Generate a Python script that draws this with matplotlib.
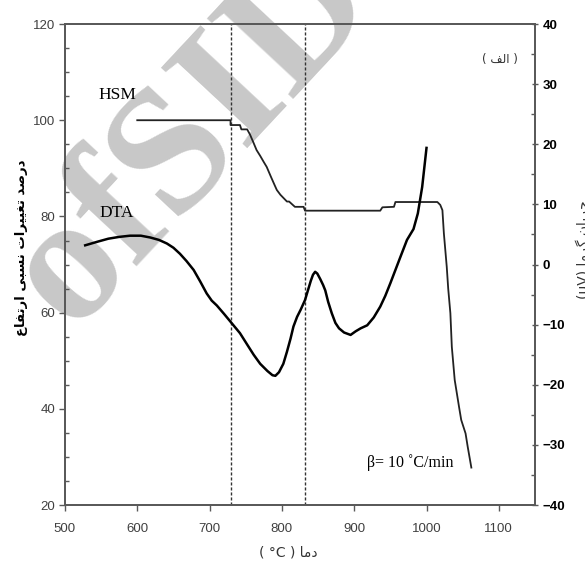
import matplotlib.pyplot as plt
from matplotlib.ticker import MultipleLocator

# HSM: relative height change (%) vs temperature (left axis)
hsm_t = [600, 729, 729, 742, 744, 752, 756, 760, 765, 770, 775, 779, 785, 790, 793,
         798, 807, 810, 818, 830, 832, 936, 939, 955, 957, 1015, 1019, 1022, 1024,
         1028, 1030, 1033, 1035, 1039, 1045, 1048, 1054, 1057, 1062]
hsm_v = [100, 100, 99.0, 99.0, 98.1, 98.1, 97.0, 95.6, 93.8, 92.6, 91.3, 90.3, 88.2,
         86.5, 85.5, 84.5, 83.1, 83.1, 82.0, 82.0, 81.2, 81.2, 81.9, 82.0, 83.0, 83.0,
         82.4, 81.3, 76.5, 69.5, 65.0, 59.9, 52.9, 46.0, 40.4, 37.7, 34.9, 32.1, 27.8]

# DTA signal (uV) vs temperature (right axis)
dta_t = [528, 545, 560, 575, 590, 605, 618, 630, 641, 650, 659, 668, 678, 687, 696,
         703, 710, 720, 731, 742, 752, 761, 770, 780, 787, 791, 796, 802, 807, 812,
         816, 821, 826, 832, 836, 840, 843, 846, 849, 853, 857, 860, 864, 869, 874,
         879, 886, 895, 902, 909, 918, 927, 936, 943, 950, 957, 964, 973, 982, 988,
         994, 1000]
dta_v = [3.2, 3.8, 4.3, 4.6, 4.8, 4.8, 4.5, 4.1, 3.5, 2.8, 1.8, 0.6, -0.9, -2.8, -4.8,
         -6.0, -6.8, -8.2, -9.8, -11.4, -13.3, -15.0, -16.5, -17.7, -18.4, -18.5, -17.9,
         -16.5, -14.5, -12.3, -10.3, -8.7, -7.5, -5.9, -4.3, -2.7, -1.7, -1.2, -1.5,
         -2.4, -3.4, -4.3, -6.2, -8.1, -9.7, -10.6, -11.3, -11.7, -11.1, -10.6, -10.1,
         -8.8, -7.0, -5.2, -3.1, -0.9, 1.3, 4.1, 5.9, 8.5, 12.9, 19.4]

marks = [730, 832]

x_ticks = [500, 600, 700, 800, 900, 1000, 1100]
left_ticks = [20, 40, 60, 80, 100, 120]
right_ticks = [-40, -30, -20, -10, 0, 10, 20, 30, 40]

# minimal Persian shaping: isolated, final, initial, medial
FORMS = {
    'ا': (0xFE8D, 0xFE8E, None, None),
    'ب': (0xFE8F, 0xFE90, 0xFE91, 0xFE92),
    'ت': (0xFE95, 0xFE96, 0xFE97, 0xFE98),
    'ج': (0xFE9D, 0xFE9E, 0xFE9F, 0xFEA0),
    'د': (0xFEA9, 0xFEAA, None, None),
    'ر': (0xFEAD, 0xFEAE, None, None),
    'س': (0xFEB1, 0xFEB2, 0xFEB3, 0xFEB4),
    'ص': (0xFEB9, 0xFEBA, 0xFEBB, 0xFEBC),
    'ع': (0xFEC9, 0xFECA, 0xFECB, 0xFECC),
    'غ': (0xFECD, 0xFECE, 0xFECF, 0xFED0),
    'ف': (0xFED1, 0xFED2, 0xFED3, 0xFED4),
    'ل': (0xFEDD, 0xFEDE, 0xFEDF, 0xFEE0),
    'م': (0xFEE1, 0xFEE2, 0xFEE3, 0xFEE4),
    'ن': (0xFEE5, 0xFEE6, 0xFEE7, 0xFEE8),
    'ی': (0xFBFC, 0xFBFD, 0xFBFE, 0xFBFF),
    'گ': (0xFB92, 0xFB93, 0xFB94, 0xFB95),
}


def fa(s):
    out = []
    for i, c in enumerate(s):
        if c not in FORMS:
            out.append(c)
            continue
        prev = s[i - 1] if i > 0 else None
        nxt = s[i + 1] if i + 1 < len(s) else None
        jp = prev in FORMS and FORMS[prev][2] is not None
        jn = nxt in FORMS and FORMS[c][2] is not None
        iso, fin, ini, med = FORMS[c]
        if jp and jn:
            code = med
        elif jp:
            code = fin
        elif jn:
            code = ini
        else:
            code = iso
        out.append(chr(code))
    return ''.join(reversed(out))


fig = plt.figure(figsize=(5.85, 5.65), dpi=100)
ax = fig.add_axes([0.111, 0.106, 0.8035, 0.8515])
ax2 = ax.twinx()

# watermark
fig.text(0.33, 0.76, 'ofSID', fontsize=130, family='Liberation Serif', fontweight='bold',
         color='#c8c8c8', rotation=47, ha='center', va='center', zorder=0)
ax.set_zorder(2)
ax2.set_zorder(3)
ax.patch.set_alpha(0)

ax.set_xlim(500, 1150)
ax.set_ylim(20, 120)
ax2.set_ylim(-40, 40)

for m in marks:
    ax.axvline(m, color='#333333', lw=1.0, ls=(0, (2.2, 1.4)))

ax.plot(hsm_t, hsm_v, color='#222222', lw=1.3)
ax2.plot(dta_t, dta_v, color='black', lw=1.8)

spine_c = '#595959'
for a in (ax, ax2):
    for s in a.spines.values():
        s.set_color(spine_c)
        s.set_linewidth(1.3)

ax.set_xticks(x_ticks)
ax.set_yticks(left_ticks)
ax.yaxis.set_minor_locator(MultipleLocator(5))
ax.tick_params(axis='x', direction='out', length=4, width=1, color=spine_c, pad=9,
               labelsize=9.5, labelcolor='#404040')
ax.tick_params(axis='y', which='major', direction='out', length=4, width=1, color=spine_c,
               pad=3, labelsize=9.5, labelcolor='#404040')
ax.tick_params(axis='y', which='minor', direction='in', length=3, width=1, color=spine_c)
for lab in ax.get_xticklabels() + ax.get_yticklabels():
    lab.set_family('Liberation Sans')

ax2.set_yticks(right_ticks)
ax2.yaxis.set_minor_locator(MultipleLocator(5))
ax2.tick_params(axis='y', which='major', direction='inout', length=5, width=1, color=spine_c,
                pad=3, labelsize=9.5)
ax2.tick_params(axis='y', which='minor', direction='in', length=3, width=1, color=spine_c)
for lab in ax2.get_yticklabels():
    lab.set_family('Liberation Sans')
    lab.set_fontweight('bold')

ax.text(572, 105.2, 'HSM', fontsize=12.5, family='Liberation Serif', ha='center', va='center')
ax.text(572, 80.7, 'DTA', fontsize=12.5, family='Liberation Serif', ha='center', va='center')
ax.text(918, 28.9, 'β= 10 ˚C/min', fontsize=11.5, family='Liberation Serif', ha='left', va='center')
ax.text(1102, 112.7, '( ' + fa('الف') + ' )', fontsize=8.5, family='DejaVu Sans',
        ha='center', va='center', color='#333333')

fig.text(288 / 585, 1 - 553 / 565, '( °C ) ' + fa('دما'), fontsize=10, family='DejaVu Sans',
         ha='center', va='center', color='#333333')
fig.text(22 / 585, 1 - 248 / 565, fa('درصد تغییرات نسبی ارتفاع'), fontsize=9.5,
         family='DejaVu Sans', fontweight='bold', rotation=90, ha='center', va='center')
fig.text(575 / 585, 1 - 250 / 565, '(μV) ' + fa('جریان گرما'), fontsize=10,
         family='DejaVu Sans', rotation=90, ha='left', va='center', color='#333333')

fig.savefig('out.png', dpi=100)
